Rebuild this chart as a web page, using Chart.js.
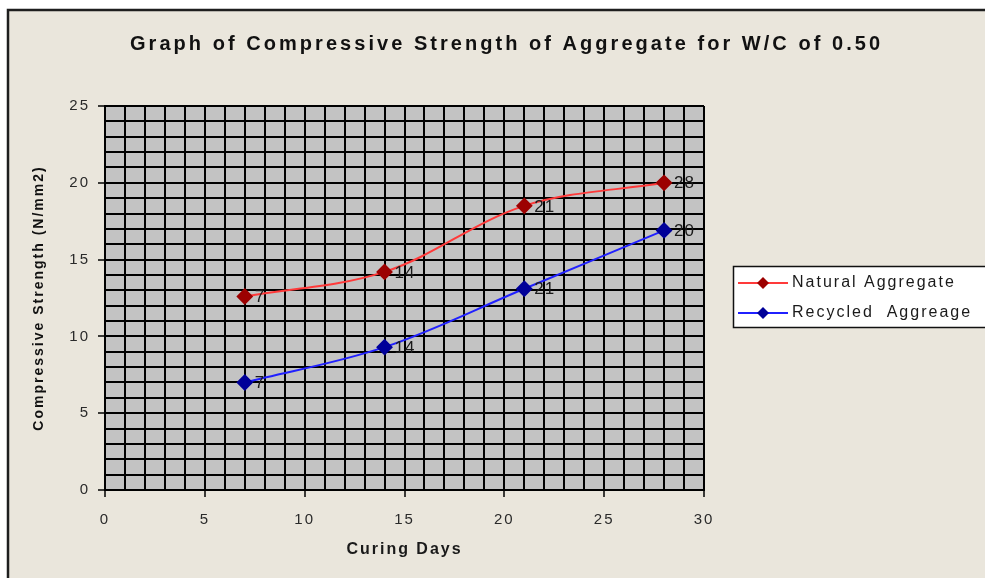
<!DOCTYPE html>
<html>
<head>
<meta charset="utf-8">
<title>Compressive Strength of Aggregate</title>
<script src="https://cdn.jsdelivr.net/npm/chart.js@4.4.1/dist/chart.umd.min.js"></script>
<style>
  html, body { margin: 0; padding: 0; background: #fff; overflow: hidden; }
  #wrap { width: 985px; height: 578px; }
</style>
</head>
<body>
<div id="wrap"><canvas id="strengthChart" width="985" height="578"></canvas></div>
<script>
// curing days (x) and strengths
const curingDays = [7, 14, 21, 28];
const naturalStrength = [12.6, 14.2, 18.5, 20.0];
const recycledStrength = [7.0, 9.3, 13.1, 16.9];
// point labels as printed next to the markers
const naturalLabels = ['7', '14', '21', '28'];
const recycledLabels = ['7', '14', '21', '20'];
const seriesNames = ['Natural Aggregate', 'Recycled  Aggreage'];
const xTickLabels = [0, 5, 10, 15, 20, 25, 30];
const yTickLabels = [0, 5, 10, 15, 20, 25];

const chartTitle = 'Graph of Compressive Strength of Aggregate for W/C of 0.50';
const FONT = '"Liberation Sans", Arial, sans-serif';

const toPoints = (xs, ys) => xs.map((x, i) => ({ x: x, y: ys[i] }));

// paper background, grey plot area, point labels, title and legend
const decor = {
    id: 'decor',
    beforeDraw(chart) {
        const { ctx, chartArea: a, width, height } = chart;
        ctx.save();
        ctx.fillStyle = '#ffffff';
        ctx.fillRect(0, 0, width, height);
        ctx.fillStyle = '#eae6dc';
        ctx.fillRect(8, 10, width - 8, height - 10);
        ctx.strokeStyle = '#1e1e1e';
        ctx.lineWidth = 2.5;
        ctx.beginPath();
        ctx.moveTo(8, height + 5);
        ctx.lineTo(8, 10);
        ctx.lineTo(width + 5, 10);
        ctx.stroke();
        ctx.fillStyle = '#c3c3c3';
        ctx.fillRect(a.left, a.top, a.right - a.left, a.bottom - a.top);
        ctx.restore();
        // letter spacing for tick labels and axis titles
        ctx.letterSpacing = '2px';
    },
    afterDatasetsDraw(chart) {
        const { ctx } = chart;
        const labels = [naturalLabels, recycledLabels];
        ctx.save();
        ctx.letterSpacing = '1px';
        ctx.font = '17px ' + FONT;
        ctx.fillStyle = '#1a1a1a';
        ctx.textAlign = 'left';
        ctx.textBaseline = 'middle';
        chart.data.datasets.forEach((ds, i) => {
            chart.getDatasetMeta(i).data.forEach((pt, j) => {
                ctx.fillText(labels[i][j], pt.x + 10, pt.y + 1);
            });
        });
        ctx.restore();
    },
    afterDraw(chart) {
        const { ctx } = chart;
        ctx.save();
        // title
        ctx.font = 'bold 20px ' + FONT;
        ctx.letterSpacing = '0px';
        const w = ctx.measureText(chartTitle).width;
        ctx.letterSpacing = ((750 - w) / (chartTitle.length - 1)).toFixed(2) + 'px';
        ctx.fillStyle = '#111';
        ctx.textAlign = 'left';
        ctx.textBaseline = 'middle';
        ctx.fillText(chartTitle, 130, 44);

        // legend box, runs off the right edge like the original
        ctx.letterSpacing = '2px';
        ctx.fillStyle = '#ffffff';
        ctx.fillRect(733, 266, 260, 62);
        ctx.strokeStyle = '#111';
        ctx.lineWidth = 1.5;
        ctx.strokeRect(733.5, 266.5, 270, 61);
        ctx.font = '16px ' + FONT;
        chart.data.datasets.forEach((ds, i) => {
            const y = 283 + i * 30;
            ctx.strokeStyle = ds.borderColor;
            ctx.lineWidth = 2;
            ctx.beginPath();
            ctx.moveTo(738, y);
            ctx.lineTo(788, y);
            ctx.stroke();
            ctx.fillStyle = ds.pointBackgroundColor;
            ctx.beginPath();
            ctx.moveTo(763, y - 6);
            ctx.lineTo(769, y);
            ctx.lineTo(763, y + 6);
            ctx.lineTo(757, y);
            ctx.closePath();
            ctx.fill();
            ctx.fillStyle = '#1a1a1a';
            ctx.fillText(ds.label, 792, y);
        });
        ctx.restore();
    }
};

const majorTick = (ctx) => (ctx.tick && ctx.tick.value % 5 === 0) ? '#000' : 'rgba(0,0,0,0)';

new Chart(document.getElementById('strengthChart').getContext('2d'), {
    type: 'line',
    data: {
        datasets: [{
            label: seriesNames[0],
            data: toPoints(curingDays, naturalStrength),
            borderColor: '#ff3a3a',
            borderWidth: 2,
            pointStyle: 'rectRot',
            pointRadius: 7,
            pointBackgroundColor: '#9c0000',
            pointBorderColor: '#9c0000',
            tension: 0.35
        }, {
            label: seriesNames[1],
            data: toPoints(curingDays, recycledStrength),
            borderColor: '#2020ff',
            borderWidth: 2,
            pointStyle: 'rectRot',
            pointRadius: 7,
            pointBackgroundColor: '#000099',
            pointBorderColor: '#000099',
            tension: 0.35
        }]
    },
    options: {
        responsive: false,
        animation: false,
        layout: { padding: { top: 106, right: 281, bottom: 0, left: 0 } },
        plugins: {
            legend: { display: false },
            title: { display: false },
            tooltip: { enabled: false }
        },
        scales: {
            x: {
                type: 'linear',
                min: 0,
                max: 30,
                afterFit(scale) { scale.height = 88; },
                afterBuildTicks(scale) {
                    scale.ticks = Array.from({ length: 31 }, (_, i) => ({ value: i }));
                },
                ticks: {
                    autoSkip: false,
                    maxRotation: 0,
                    padding: 14,
                    color: '#2a2a2a',
                    font: { family: FONT, size: 15 },
                    callback: (v) => xTickLabels.includes(v) ? String(v) : ''
                },
                grid: { color: '#000', lineWidth: 2, tickLength: 7, tickWidth: 1.5, tickColor: majorTick },
                border: { color: '#000', width: 2 },
                title: {
                    display: true,
                    text: 'Curing Days',
                    color: '#1a1a1a',
                    font: { family: FONT, size: 16, weight: 'bold' },
                    padding: { top: 0, bottom: 19 }
                }
            },
            y: {
                min: 0,
                max: 25,
                afterFit(scale) { scale.width = 105; },
                afterBuildTicks(scale) {
                    scale.ticks = Array.from({ length: 26 }, (_, i) => ({ value: i }));
                },
                ticks: {
                    autoSkip: false,
                    padding: 8,
                    color: '#2a2a2a',
                    font: { family: FONT, size: 15 },
                    callback: (v) => yTickLabels.includes(v) ? String(v) : ''
                },
                grid: { color: '#000', lineWidth: 2, tickLength: 7, tickWidth: 1.5, tickColor: majorTick },
                border: { color: '#000', width: 2 },
                title: {
                    display: true,
                    text: 'Compressive Strength (N/mm2)',
                    color: '#111',
                    font: { family: FONT, size: 14, weight: 'bold' },
                    padding: { top: 31, bottom: 0 }
                }
            }
        }
    },
    plugins: [decor]
});
</script>
</body>
</html>
